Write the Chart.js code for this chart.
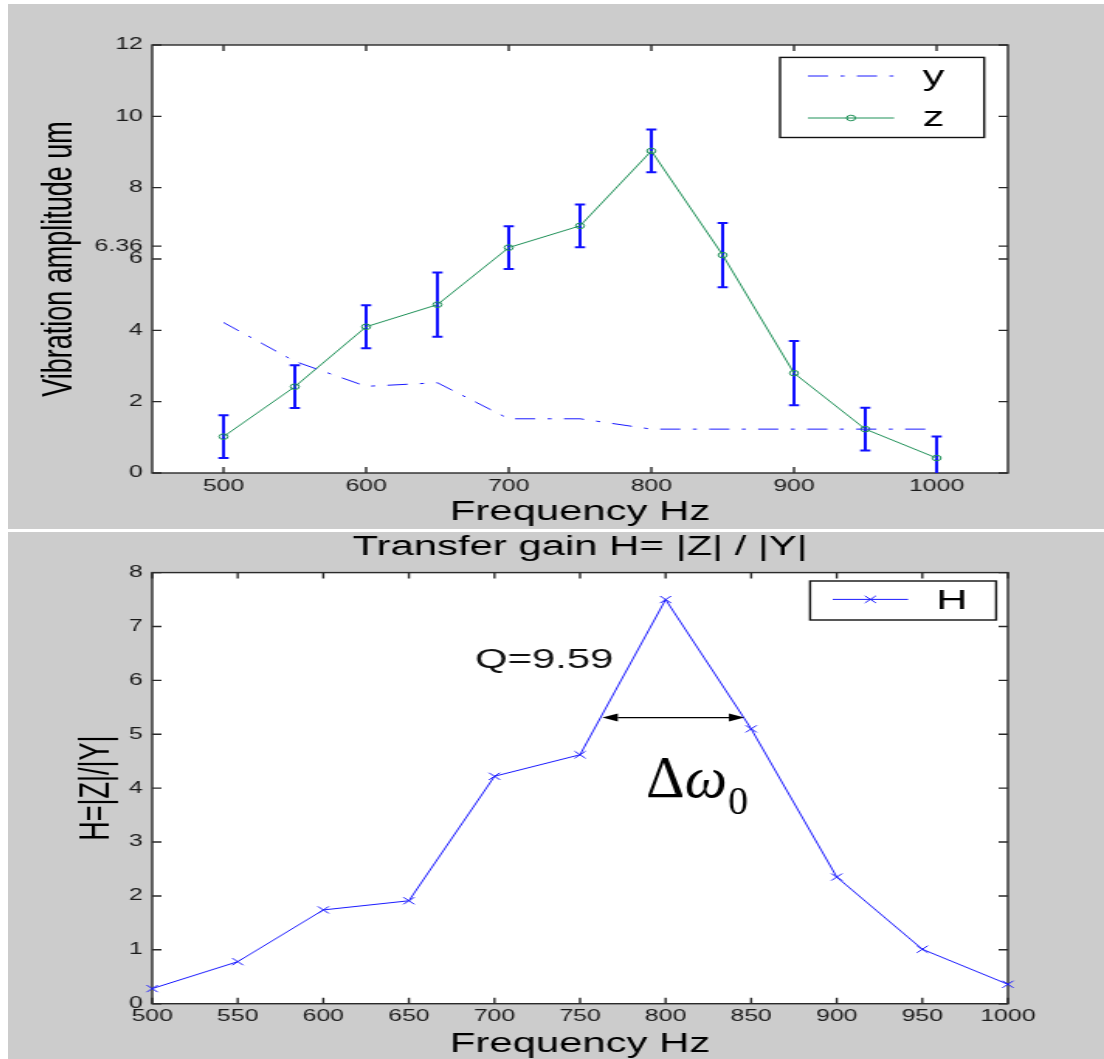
<!DOCTYPE html>
<html><head><meta charset="utf-8">
<script src="https://cdn.jsdelivr.net/npm/chart.js@4/dist/chart.umd.min.js"></script>
<style>
html,body{margin:0;padding:0;background:#fff;}
body{width:1104px;height:1059px;position:relative;overflow:hidden;}
.panel{position:absolute;left:8px;width:1096px;background:#cccccc;}
#p1{top:4px;height:525px;}
#p2{top:532px;height:527px;}
canvas{display:block;}
</style></head><body>
<div class="panel" id="p1"><canvas id="c1" width="707" height="525" style="width:1096px;height:525px"></canvas></div>
<div class="panel" id="p2"><canvas id="c2" width="707" height="527" style="width:1096px;height:527px"></canvas></div>
<script>
// ---------- data ----------
const freq = [500, 550, 600, 650, 700, 750, 800, 850, 900, 950, 1000];
const yAmp = [4.22, 3.13, 2.43, 2.53, 1.52, 1.52, 1.23, 1.23, 1.23, 1.23, 1.23];
const zAmp = [1.02, 2.42, 4.10, 4.72, 6.32, 6.93, 9.03, 6.11, 2.80, 1.23, 0.42];
const zErr = [0.6, 0.6, 0.6, 0.9, 0.6, 0.6, 0.6, 0.9, 0.9, 0.6, 0.6];
const hGain = [0.28, 0.78, 1.74, 1.91, 4.22, 4.62, 7.50, 5.10, 2.35, 1.01, 0.36];
const topYTicks = [0, 2, 4, 6, 6.36, 8, 10, 12];
const topXTicks = [500, 600, 700, 800, 900, 1000];
const botYTicks = [0, 1, 2, 3, 4, 5, 6, 7, 8];
const botXTicks = [500, 550, 600, 650, 700, 750, 800, 850, 900, 950, 1000];
const qText = 'Q=9.59';
const qPos = [729, 6.23];
const bandArrow = [763, 846, 5.31];
const deltaPos = [788.6, 3.84];

// ---------- helpers ----------
const S = 1096 / 707; // horizontal stretch of the picture
const FONT = '"Liberation Sans", Arial, Helvetica, sans-serif';
const SERIF = '"Liberation Serif", "Times New Roman", serif';
const pts = (xs, ys) => xs.map((x, i) => ({x: x, y: ys[i]}));

const frameTicks = {
  id: 'frameTicks',
  beforeDraw(chart) {
    const {ctx, chartArea: a} = chart;
    ctx.save();
    ctx.fillStyle = '#ffffff';
    ctx.fillRect(a.left, a.top, a.right - a.left, a.bottom - a.top);
    ctx.restore();
  },
  beforeDatasetsDraw(chart) {
    const {ctx, chartArea: a, scales} = chart;
    const L = 6;
    ctx.save();
    ctx.strokeStyle = '#2a2a2a';
    ctx.lineWidth = 1.4;
    ctx.beginPath();
    scales.x.ticks.forEach(t => {
      const px = scales.x.getPixelForValue(t.value);
      ctx.moveTo(px, a.bottom); ctx.lineTo(px, a.bottom - L);
      ctx.moveTo(px, a.top); ctx.lineTo(px, a.top + L);
    });
    scales.y.ticks.forEach(t => {
      const py = scales.y.getPixelForValue(t.value);
      ctx.moveTo(a.left, py); ctx.lineTo(a.left + L, py);
      ctx.moveTo(a.right, py); ctx.lineTo(a.right - L, py);
    });
    ctx.stroke();
    ctx.strokeRect(a.left, a.top, a.right - a.left, a.bottom - a.top);
    ctx.restore();
  }
};

function drawMarker(ctx, style, x, y, r, color) {
  ctx.save();
  ctx.strokeStyle = color; ctx.lineWidth = 1; ctx.setLineDash([]);
  ctx.beginPath();
  if (style === 'circle') {
    ctx.arc(x, y, r, 0, Math.PI * 2);
  } else if (style === 'crossRot') {
    const d = r * Math.SQRT1_2;
    ctx.moveTo(x - d, y - d); ctx.lineTo(x + d, y + d);
    ctx.moveTo(x - d, y + d); ctx.lineTo(x + d, y - d);
  }
  ctx.stroke();
  ctx.restore();
}

function legendPlugin(box) {
  return {
    id: 'boxLegend',
    afterDraw(chart) {
      const ctx = chart.ctx;
      ctx.save();
      ctx.fillStyle = '#ffffff';
      ctx.fillRect(box.x0, box.y0, box.x1 - box.x0, box.y1 - box.y0);
      ctx.strokeStyle = '#111'; ctx.lineWidth = 1.4;
      ctx.strokeRect(box.x0, box.y0, box.x1 - box.x0, box.y1 - box.y0);
      chart.data.datasets.forEach((ds, i) => {
        const row = box.rows[i];
        ctx.save();
        ctx.strokeStyle = ds.borderColor; ctx.lineWidth = ds.borderWidth;
        ctx.setLineDash(ds.borderDash || []);
        ctx.beginPath(); ctx.moveTo(box.lx0, row.ly); ctx.lineTo(box.lx1, row.ly); ctx.stroke();
        ctx.restore();
        if (ds.pointRadius > 0) drawMarker(ctx, ds.pointStyle, (box.lx0 + box.lx1) / 2, row.ly, ds.pointRadius, ds.pointBorderColor);
        ctx.fillStyle = '#000';
        ctx.font = '28px ' + FONT;
        ctx.textAlign = 'left'; ctx.textBaseline = 'alphabetic';
        ctx.fillText(ds.label, box.tx, row.ty);
      });
      ctx.restore();
    }
  };
}

const errorBars = {
  id: 'errorBars',
  beforeDatasetsDraw(chart) {
    const {ctx, chartArea: a, scales} = chart;
    ctx.save();
    ctx.beginPath(); ctx.rect(a.left, a.top, a.right - a.left, a.bottom - a.top); ctx.clip();
    ctx.strokeStyle = '#1010ff'; ctx.lineWidth = 2;
    ctx.beginPath();
    freq.forEach((f, i) => {
      const px = scales.x.getPixelForValue(f);
      const pt = scales.y.getPixelForValue(zAmp[i] + zErr[i]);
      const pb = scales.y.getPixelForValue(zAmp[i] - zErr[i]);
      const c = 3.3;
      ctx.moveTo(px, pt); ctx.lineTo(px, pb);
      ctx.moveTo(px - c, pt); ctx.lineTo(px + c, pt);
      ctx.moveTo(px - c, pb); ctx.lineTo(px + c, pb);
    });
    ctx.stroke();
    ctx.restore();
  }
};

const annotations = {
  id: 'annotations',
  afterDatasetsDraw(chart) {
    const {ctx, scales} = chart;
    const xs = scales.x, ys = scales.y;
    ctx.save();
    // Q label
    ctx.fillStyle = '#111';
    ctx.font = '27px ' + FONT;
    ctx.textAlign = 'center'; ctx.textBaseline = 'alphabetic';
    ctx.fillText(qText, xs.getPixelForValue(qPos[0]), ys.getPixelForValue(qPos[1]));
    // double arrow
    const ax0 = xs.getPixelForValue(bandArrow[0]);
    const ax1 = xs.getPixelForValue(bandArrow[1]);
    const ay = ys.getPixelForValue(bandArrow[2]);
    const hl = 10, hh = 4;
    ctx.strokeStyle = '#000'; ctx.fillStyle = '#000'; ctx.lineWidth = 1.3;
    ctx.beginPath(); ctx.moveTo(ax0 + hl, ay); ctx.lineTo(ax1 - hl, ay); ctx.stroke();
    ctx.beginPath(); ctx.moveTo(ax0, ay); ctx.lineTo(ax0 + hl, ay - hh); ctx.lineTo(ax0 + hl, ay + hh); ctx.closePath(); ctx.fill();
    ctx.beginPath(); ctx.moveTo(ax1, ay); ctx.lineTo(ax1 - hl, ay - hh); ctx.lineTo(ax1 - hl, ay + hh); ctx.closePath(); ctx.fill();
    // delta omega_0 (not stretched)
    const dx = xs.getPixelForValue(deltaPos[0]), dy = ys.getPixelForValue(deltaPos[1]);
    ctx.translate(dx, dy); ctx.scale(1 / S, 1);
    ctx.textAlign = 'left'; ctx.fillStyle = '#000';
    ctx.font = '60px ' + SERIF;
    ctx.fillText('Δ', 0, 0);
    let w = ctx.measureText('Δ').width;
    ctx.font = 'italic 60px ' + SERIF;
    ctx.fillText('ω', w, 0);
    w += ctx.measureText('ω').width;
    ctx.font = '40px ' + SERIF;
    ctx.fillText('0', w + 1, 17);
    ctx.restore();
  }
};

function axisX(min, max, tickVals, pad, titlePadBottom, height) {
  return {
    type: 'linear', min: min, max: max,
    afterBuildTicks: s => { s.ticks = tickVals.map(v => ({value: v})); },
    afterFit: s => { s.height = height; },
    grid: {display: false, drawTicks: false},
    border: {display: false},
    ticks: {autoSkip: false, maxRotation: 0, padding: pad, color: '#1a1a1a',
      font: {family: FONT, size: 16, lineHeight: 1.2}, callback: v => String(v)},
    title: {display: true, text: 'Frequency Hz', color: '#000',
      font: {family: FONT, size: 27, lineHeight: 1}, padding: {top: 0, bottom: titlePadBottom}}
  };
}
function axisY(min, max, tickVals, title, titlePadTop) {
  return {
    type: 'linear', min: min, max: max,
    afterBuildTicks: s => { s.ticks = tickVals.map(v => ({value: v})); },
    afterFit: s => { s.width = 93; },
    grid: {display: false, drawTicks: false},
    border: {display: false},
    ticks: {autoSkip: false, padding: 6, color: '#1a1a1a',
      font: {family: FONT, size: 16, lineHeight: 1.2}, callback: v => String(v)},
    title: {display: true, text: title, color: '#000',
      font: {family: FONT, size: 27, lineHeight: 1}, padding: {top: titlePadTop, bottom: 0}}
  };
}

// ---------- top chart ----------
new Chart(document.getElementById('c1'), {
  type: 'line',
  data: {
    datasets: [
      {label: 'y', data: pts(freq, yAmp), borderColor: '#1a1aff', borderWidth: 1,
       borderDash: [13, 8, 2.6, 8], pointRadius: 0, fill: false, tension: 0, clip: false},
      {label: 'z', data: pts(freq, zAmp), borderColor: '#1f9158', borderWidth: 1,
       pointStyle: 'circle', pointRadius: 2.8, pointBorderColor: '#1f9158',
       pointBackgroundColor: 'rgba(0,0,0,0)', pointBorderWidth: 1, fill: false, tension: 0, clip: false}
    ]
  },
  options: {
    responsive: false, animation: false, devicePixelRatio: 1,
    layout: {padding: {left: 0, right: 62, top: 41, bottom: 0}},
    plugins: {legend: {display: false}, tooltip: {enabled: false}},
    scales: {
      x: axisX(450, 1050, topXTicks, 4.4, 3, 56),
      y: axisY(0, 12, topYTicks, 'Vibration amplitude um', 20)
    }
  },
  plugins: [frameTicks, errorBars, legendPlugin({
    x0: 498, x1: 629.7, y0: 53.4, y1: 133.5, lx0: 516, lx1: 571.6, tx: 590,
    rows: [{ly: 72, ty: 80.5}, {ly: 114, ty: 121.7}]
  })]
});

// ---------- bottom chart ----------
new Chart(document.getElementById('c2'), {
  type: 'line',
  data: {
    datasets: [
      {label: 'H', data: pts(freq, hGain), borderColor: '#1a1aff', borderWidth: 1,
       pointStyle: 'crossRot', pointRadius: 5, pointBorderColor: '#1a1aff', pointBorderWidth: 1,
       fill: false, tension: 0, clip: false}
    ]
  },
  options: {
    responsive: false, animation: false, devicePixelRatio: 1,
    layout: {padding: {left: 0, right: 62, top: 0, bottom: 0}},
    plugins: {
      legend: {display: false}, tooltip: {enabled: false},
      title: {display: true, text: 'Transfer gain H= |Z| / |Y|', color: '#000', fullSize: false,
        font: {family: FONT, size: 27, weight: 'normal', lineHeight: 1}, padding: {top: 2, bottom: 11.6}}
    },
    scales: {
      x: axisX(500, 1000, botXTicks, 3.4, 1, 55.3),
      y: axisY(0, 8, botYTicks, 'H=|Z|/|Y|', 44)
    }
  },
  plugins: [frameTicks, annotations, legendPlugin({
    x0: 517.4, x1: 637.4, y0: 49, y1: 88, lx0: 532, lx1: 580.6, tx: 598.7,
    rows: [{ly: 67.4, ty: 76.7}]
  })]
});
</script>
</body></html>
